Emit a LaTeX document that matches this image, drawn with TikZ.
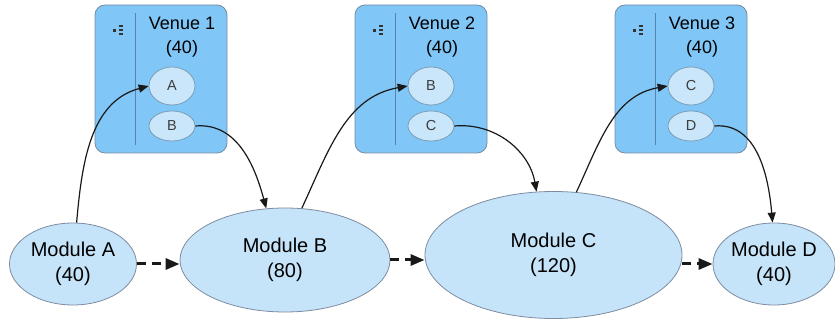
\documentclass[tikz,border=0pt]{standalone}
\usepackage{fontspec}
\setmainfont{Liberation Sans}
\usetikzlibrary{arrows.meta,shapes.geometric}
\definecolor{boxfill}{RGB}{128,198,246}
\definecolor{boxline}{RGB}{120,140,160}
\definecolor{divline}{RGB}{90,130,170}
\definecolor{slotfill}{RGB}{202,230,250}
\definecolor{slotline}{RGB}{120,150,175}
\definecolor{modfill}{RGB}{198,228,249}
\definecolor{modline}{RGB}{125,140,160}
\definecolor{slottext}{RGB}{60,60,60}
\tikzset{
  venuebox/.style={draw=boxline, fill=boxfill, rounded corners=10pt, minimum width=132pt, minimum height=148pt, inner sep=0pt, line width=0.8pt},
  venuetitle/.style={align=center, font=\fontsize{18pt}{24pt}\selectfont, inner sep=0pt},
  slottop/.style={ellipse, draw=slotline, fill=slotfill, minimum width=46pt, minimum height=38pt, inner sep=0pt, font=\fontsize{14.5pt}{16pt}\selectfont, text=slottext, line width=0.7pt},
  slotbot/.style={ellipse, draw=slotline, fill=slotfill, minimum width=46pt, minimum height=30pt, inner sep=0pt, font=\fontsize{14.5pt}{16pt}\selectfont, text=slottext, line width=0.7pt},
  module/.style={ellipse, draw=modline, fill=modfill, inner sep=0pt, align=center, font=\fontsize{20pt}{25pt}\selectfont, line width=0.8pt},
  link/.style={-{Triangle[length=10pt,width=8pt]}, line width=1.2pt, black!90},
  flow/.style={-{Triangle[length=14pt,width=11pt]}, line width=3pt, dash pattern=on 9pt off 6pt, black!90},
}
\newcommand{\venueicon}[2]{%
  \fill[black!80] (#1-4,#2-2) rectangle (#1-1,#2+1);
  \foreach \dy in {-4,0,4} {\fill[black!80] (#1+1.5,#2+\dy-1) rectangle (#1+5.5,#2+\dy+1);}
}
\begin{document}
\begin{tikzpicture}[x=1pt,y=1pt]
\useasboundingbox (0,0) rectangle (835,321);
% venues
\foreach \i/\l in {1/95,2/355,3/615} {
  \node[venuebox] (v\i) at (\l+66,242) {};
  \draw[divline, line width=0.8pt] (\l+40,308) -- (\l+40,176);
  \venueicon{\l+22}{291}
}
\node[venuetitle] (v1t) at (182,284) {Venue 1\\(40)};
\node[venuetitle] (v2t) at (442,284) {Venue 2\\(40)};
\node[venuetitle] (v3t) at (702,284) {Venue 3\\(40)};
\node[slottop] (v1a) at (172,235) {A};
\node[slotbot] (v1b) at (172,195) {B};
\node[slottop] (v2b) at (431,235) {B};
\node[slotbot] (v2c) at (431,195) {C};
\node[slottop] (v3c) at (691,235) {C};
\node[slotbot] (v3d) at (691,195) {D};
% modules
\node[module, minimum width=127pt, minimum height=82pt] (ma) at (73,57) {Module A\\(40)};
\node[module, minimum width=210pt, minimum height=104pt] (mb) at (285,61) {Module B\\(80)};
\node[module, minimum width=257pt, minimum height=127pt] (mc) at (553.5,66) {Module C\\(120)};
\node[module, minimum width=122pt, minimum height=82pt] (md) at (774,57) {Module D\\(40)};
% flow arrows
\draw[flow] (ma.east) -- (mb.west |- ma.east);
\draw[flow] (mb.east) -- (mc.west |- mb.east);
\draw[flow] (mc.east |- md.west) -- (md.west);
% links
\draw[link] (ma.85) to[out=85, in=195] (v1a.west);
\draw[link] (v1b.east) to[out=5, in=105] (mb.110);
\draw[link] (mb.72) to[out=65, in=190] (v2b.west);
\draw[link] (v2c.east) to[out=5, in=100] (mc.105);
\draw[link] (mc.70) to[out=65, in=190] (v3c.west);
\draw[link] (v3d.east) to[out=5, in=95] (md.92);
\end{tikzpicture}
\end{document}
